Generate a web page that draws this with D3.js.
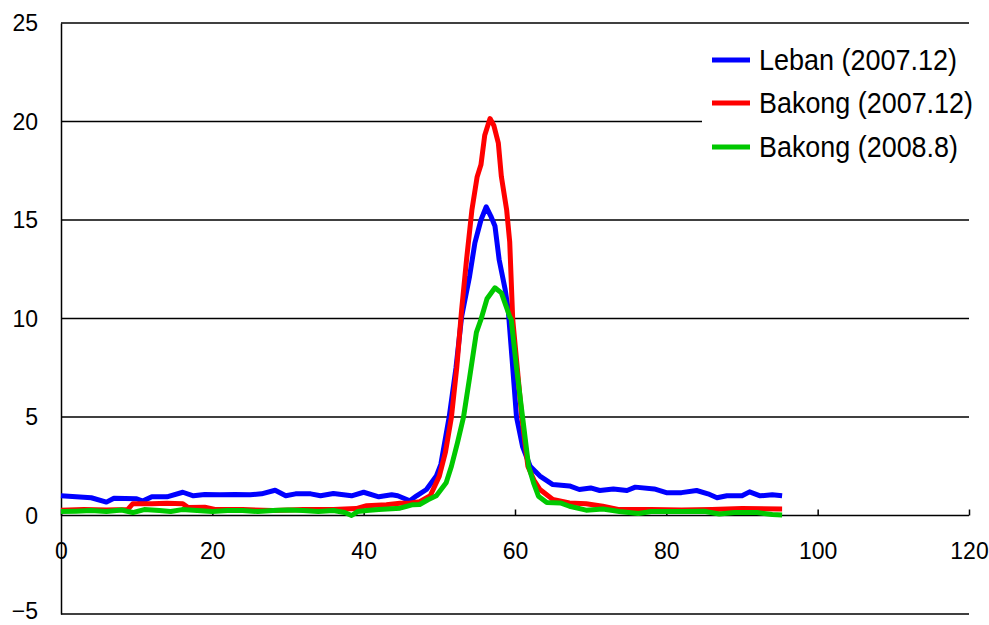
<!DOCTYPE html>
<html>
<head>
<meta charset="utf-8">
<script src="https://cdn.jsdelivr.net/npm/d3@7"></script>
<style>
  html, body { margin: 0; padding: 0; background: #fff; }
  svg { display: block; }
  text { font-family: "Liberation Sans Narrow", "Liberation Sans", "Noto Sans CJK JP", sans-serif; fill: #000; }
</style>
</head>
<body>
<svg id="chart" width="989" height="625"></svg>
<script>
// ---- data ----
const xTicks = [0, 20, 40, 60, 80, 100, 120];
const yTicks = [-5, 0, 5, 10, 15, 20, 25];
const seriesNames = ["Leban (2007.12)", "Bakong (2007.12)", "Bakong (2008.8)"];
const seriesColors = ["#0000ff", "#ff0000", "#00c800"];

const lebanX = [0, 2, 4, 6, 7, 10, 10.8, 12, 14, 16.1, 17.5, 19, 21, 23, 25, 26.5, 28.3, 29.7, 31, 33, 34.3, 36, 38.4, 40, 42, 43.7, 44.5, 46.1, 47, 48.3, 49.6, 50.2, 51.3, 52.2, 52.95, 54.0, 54.7, 55.5, 56.2, 56.8, 57.35, 57.9, 58.7, 59.1, 59.6, 60.2, 61, 62, 63.3, 65, 67.2, 68.5, 70, 71.2, 73, 74.8, 75.9, 78.4, 80, 82, 84, 85.5, 86.7, 88, 90, 91, 92.4, 94, 95.3];
const lebanY = [1.0, 0.95, 0.9, 0.68, 0.88, 0.85, 0.73, 0.95, 0.95, 1.18, 1.0, 1.07, 1.05, 1.07, 1.05, 1.1, 1.28, 1.0, 1.1, 1.1, 1.0, 1.12, 1.0, 1.18, 0.95, 1.05, 1.0, 0.75, 1.0, 1.32, 2.0, 2.6, 5.0, 7.5, 10.1, 12.15, 13.84, 15.0, 15.67, 15.2, 14.7, 13.0, 11.47, 10.46, 8.0, 5.0, 3.5, 2.5, 2.0, 1.57, 1.5, 1.32, 1.4, 1.27, 1.35, 1.27, 1.44, 1.35, 1.16, 1.16, 1.27, 1.1, 0.9, 1.0, 1.0, 1.2, 1.0, 1.05, 1.0];

const bakong07X = [0, 3, 6, 8.8, 9.5, 12, 14, 16.1, 16.8, 19, 20.5, 24, 28, 32, 36, 39, 40.4, 43, 44.8, 46, 47.4, 48.8, 50.0, 50.8, 51.6, 52.3, 52.95, 53.6, 54.3, 55.0, 55.5, 56.0, 56.7, 57.2, 57.8, 58.2, 58.9, 59.3, 59.7, 60.3, 60.9, 61.7, 62.5, 63.3, 65, 67.2, 69.4, 71.6, 73.8, 78, 82, 86, 90, 95.3];
const bakong07Y = [0.27, 0.3, 0.28, 0.3, 0.6, 0.6, 0.62, 0.6, 0.4, 0.42, 0.3, 0.3, 0.25, 0.3, 0.3, 0.35, 0.5, 0.55, 0.62, 0.62, 0.7, 1.0, 2.0, 3.2, 5.0, 7.5, 10.46, 13.0, 15.5, 17.2, 17.8, 19.3, 20.15, 19.8, 18.9, 17.2, 15.5, 13.9, 9.95, 7.5, 5.0, 2.5, 1.8, 1.32, 0.81, 0.64, 0.6, 0.47, 0.3, 0.3, 0.28, 0.3, 0.35, 0.33];

const bakong08X = [0, 2, 4, 6, 8, 9.5, 11, 13, 14.5, 16, 18, 20, 22, 24, 26, 28, 30, 32, 34, 36, 37.5, 38.4, 39.2, 40.4, 42, 44.8, 46.5, 47.4, 48.5, 49.6, 50.9, 51.6, 52.4, 53.2, 54.0, 54.9, 55.5, 56.3, 57.35, 58.2, 59.3, 59.5, 60.2, 61.0, 61.8, 62.5, 63.1, 64.2, 66, 67.2, 69.4, 71.6, 73.8, 76.3, 78, 82, 85, 87, 89, 92, 94, 95.3];
const bakong08Y = [0.2, 0.22, 0.25, 0.2, 0.28, 0.15, 0.3, 0.25, 0.2, 0.3, 0.25, 0.2, 0.25, 0.25, 0.2, 0.25, 0.28, 0.25, 0.2, 0.25, 0.15, 0.0, 0.2, 0.25, 0.3, 0.37, 0.55, 0.56, 0.8, 1.0, 1.66, 2.5, 3.7, 5.0, 7.0, 9.3, 9.95, 11.0, 11.56, 11.3, 10.1, 9.95, 7.5, 5.0, 2.5, 1.6, 0.98, 0.66, 0.64, 0.47, 0.27, 0.33, 0.2, 0.1, 0.2, 0.2, 0.22, 0.08, 0.15, 0.15, 0.05, 0.03];

// ---- chart ----
const svg = d3.select("#chart");
const x = d3.scaleLinear().domain([0, 120]).range([61, 969]);
const y = d3.scaleLinear().domain([-5, 25]).range([614, 23]);

const series = [
  { name: seriesNames[0], color: seriesColors[0], pts: d3.zip(lebanX, lebanY) },
  { name: seriesNames[1], color: seriesColors[1], pts: d3.zip(bakong07X, bakong07Y) },
  { name: seriesNames[2], color: seriesColors[2], pts: d3.zip(bakong08X, bakong08Y) }
];

// horizontal gridlines (all except 0, which is the x axis)
svg.append("g").selectAll("line")
  .data(yTicks.filter(d => d !== 0))
  .join("line")
  .attr("x1", x(0)).attr("x2", x(120))
  .attr("y1", d => y(d)).attr("y2", d => y(d))
  .attr("stroke", "#000").attr("stroke-width", 1.5);

// y axis
const yAxis = svg.append("g")
  .attr("transform", `translate(${x(0)},0)`)
  .call(d3.axisLeft(y).tickValues(yTicks).tickSize(0).tickPadding(23)
    .tickFormat(d => d < 0 ? "\u2212" + Math.abs(d) : d));
yAxis.select(".domain").attr("stroke", "#000").attr("stroke-width", 1.5);
yAxis.selectAll("text").attr("font-size", 23).attr("font-family", null)
  .attr("dy", d => d < 0 ? "0.2em" : "0.33em");

// x axis at y=0
const xAxis = svg.append("g")
  .attr("transform", `translate(0,${y(0)})`)
  .call(d3.axisTop(x).tickValues(xTicks).tickSize(6).tickFormat(d => d));
xAxis.select(".domain").attr("stroke", "#000").attr("stroke-width", 1.5).attr("d", `M${x(0)},0H${x(120)}`);
xAxis.selectAll(".tick line").attr("stroke", "#000").attr("stroke-width", 1.5);
xAxis.selectAll("text")
  .attr("y", 35).attr("dy", "0.35em")
  .attr("font-size", 23).attr("font-family", null);

// lines
const line = d3.line().x(d => x(d[0])).y(d => y(d[1])).curve(d3.curveLinear);
svg.append("g").selectAll("path")
  .data(series)
  .join("path")
  .attr("d", d => line(d.pts))
  .attr("fill", "none")
  .attr("stroke", d => d.color)
  .attr("stroke-width", 5)
  .attr("stroke-linejoin", "round")
  .attr("stroke-linecap", "butt");

// legend
const legend = svg.append("g");
legend.append("rect").attr("x", 702).attr("y", 36).attr("width", 280).attr("height", 145).attr("fill", "#fff");
const legendRowY = [60, 103, 147];
const legendWidths = [198, 214, 199];
const rows = legend.selectAll("g.row").data(series).join("g").attr("class", "row")
  .attr("transform", (d, i) => `translate(0,${legendRowY[i]})`);
rows.append("line").attr("x1", 712).attr("x2", 750).attr("y1", 0).attr("y2", 0)
  .attr("stroke", d => d.color).attr("stroke-width", 5);
rows.append("text").attr("x", 759).attr("y", 0).attr("dy", "0.36em")
  .attr("font-size", 29)
  .attr("textLength", (d, i) => legendWidths[i]).attr("lengthAdjust", "spacingAndGlyphs")
  .text(d => d.name);
</script>
</body>
</html>
